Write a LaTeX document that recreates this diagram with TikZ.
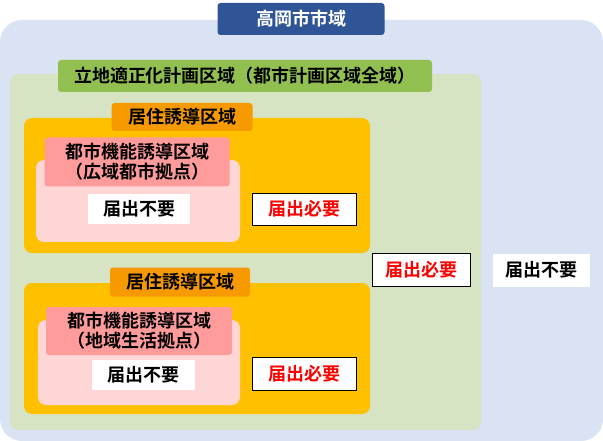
\documentclass[tikz,border=0pt]{standalone}
\usepackage{fontspec}
\setmainfont{Noto Sans CJK JP}[BoldFont={Noto Sans CJK JP Bold}]
\begin{document}
\begin{tikzpicture}[x=1pt,y=-1pt,
 area/.style={rounded corners=8pt},
 lab/.style={rounded corners=3pt,font=\bfseries\fontsize{18}{20}\selectfont,align=center},
 note/.style={fill=white,font=\bfseries\fontsize{18}{20}\selectfont}]
\useasboundingbox (0,0) rectangle (603,441);
\definecolor{bluebg}{HTML}{DAE3F3}\definecolor{navy}{HTML}{2F5597}
\definecolor{greenbg}{HTML}{D6E4C3}\definecolor{greenlab}{HTML}{92C050}
\definecolor{orangebg}{HTML}{FFC000}\definecolor{orangelab}{HTML}{F79A00}
\definecolor{pinkbg}{HTML}{FFD6D6}\definecolor{pinklab}{HTML}{FF9B9B}
\fill[bluebg,rounded corners=22pt] (0,20) rectangle (603,441);
\node[lab,fill=navy,text=white,minimum width=167pt,minimum height=32pt] (city) at (301,19) {高岡市市域};
\fill[greenbg,area] (10,74) rectangle (481,430);
\node[lab,fill=greenlab,text=black,minimum width=374pt,minimum height=32pt,inner sep=1pt] (plan) at (245,76) {立地適正化計画区域（都市計画区域全域）};
\fill[orangebg,area] (24,118) rectangle (370,253);
\node[lab,fill=orangelab,minimum width=141pt,minimum height=28pt,inner sep=1pt] (res1) at (182,117) {居住誘導区域};
\fill[pinkbg,area] (36,160) rectangle (240,242);
\node[lab,fill=pinklab,minimum width=185pt,minimum height=49pt,inner sep=1pt] (urb1) at (137,162) {都市機能誘導区域\\（広域都市拠点）};
\node[note,minimum width=102pt,minimum height=30pt,inner sep=1pt] (n1) at (139,209) {届出不要};
\node[note,draw=black,text=red,minimum width=104pt,minimum height=32pt,inner sep=1pt] (r1) at (304,209) {届出必要};
\fill[orangebg,area] (24,283) rectangle (370,414);
\node[lab,fill=orangelab,minimum width=140pt,minimum height=29pt,inner sep=1pt] (res2) at (180,282) {居住誘導区域};
\fill[pinkbg,area] (38,320) rectangle (240,405);
\node[lab,fill=pinklab,minimum width=186pt,minimum height=48pt,inner sep=1pt] (urb2) at (139,331) {都市機能誘導区域\\（地域生活拠点）};
\node[note,minimum width=103pt,minimum height=30pt,inner sep=1pt] (n2) at (143,375) {届出不要};
\node[note,draw=black,text=red,minimum width=104pt,minimum height=33pt,inner sep=1pt] (r2) at (304,374) {届出必要};
\node[note,draw=black,text=red,minimum width=98pt,minimum height=33pt,inner sep=1pt] (r3) at (421,270) {届出必要};
\node[note,minimum width=97pt,minimum height=33pt,inner sep=1pt] (n3) at (541,270) {届出不要};
\end{tikzpicture}
\end{document}
